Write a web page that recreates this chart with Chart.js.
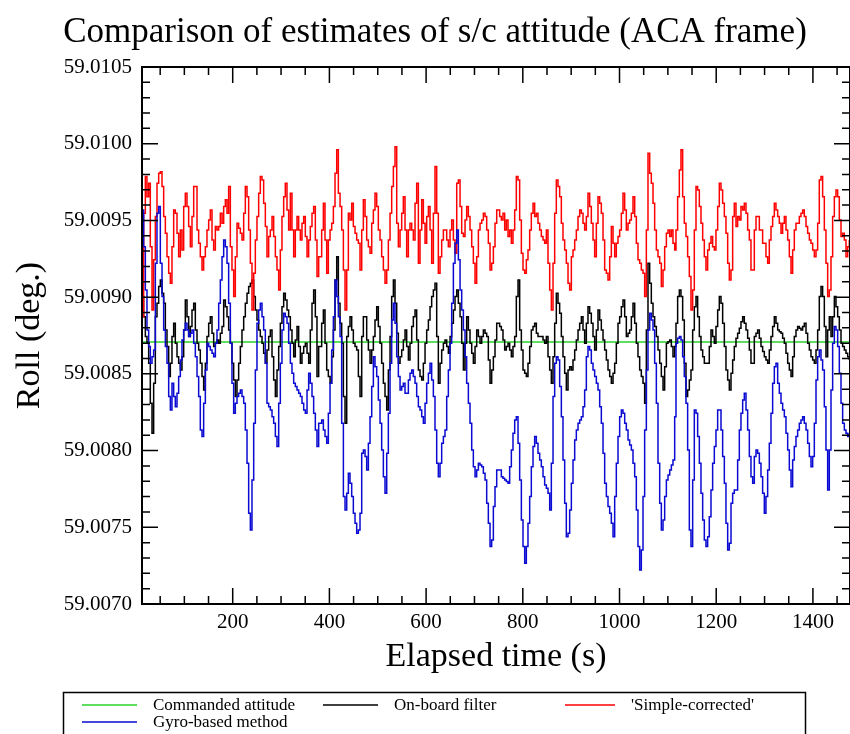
<!DOCTYPE html>
<html>
<head>
<meta charset="utf-8">
<title>Comparison of estimates of s/c attitude</title>
<script src="https://cdn.jsdelivr.net/npm/chart.js@4.4.1/dist/chart.umd.min.js"></script>
<style>
html,body{margin:0;padding:0;background:#ffffff;overflow:hidden;}
#wrap{position:relative;width:850px;height:734px;}
canvas{display:block;}
</style>
</head>
<body>
<div id="wrap"><canvas id="chart" width="850" height="734"></canvas></div>
<script>
// ---------------- data ----------------
const chartTitle = "Comparison of estimates of s/c attitude (ACA frame)";
const xAxisTitle = "Elapsed time (s)";
const yAxisTitle = "Roll (deg.)";
const xTickValues = [200, 400, 600, 800, 1000, 1200, 1400];
const yTickValues = [59.0070, 59.0075, 59.0080, 59.0085, 59.0090, 59.0095, 59.0100, 59.0105];
const xLimits = [12.4, 1476.7];
const yLimits = [59.0070, 59.0105];
const seriesLabels = ["Commanded attitude", "On-board filter", "'Simple-corrected'", "Gyro-based method"];
const commandedRoll = 59.008708;

const time = [
12.4,15.8,19.3,22.7,26.2,29.6,33.1,36.5,40.0,43.4,
46.9,50.3,53.8,57.2,60.7,64.1,67.6,71.0,74.4,77.9,
81.3,84.8,88.2,91.7,95.1,98.6,102.0,105.5,108.9,112.4,
115.8,119.3,122.7,126.2,129.6,133.0,136.5,139.9,143.4,146.8,
150.3,153.7,157.2,160.6,164.1,167.5,171.0,174.4,177.9,181.3,
184.8,188.2,191.6,195.1,198.5,202.0,205.4,208.9,212.3,215.8,
219.2,222.7,226.1,229.6,233.0,236.5,239.9,243.4,246.8,250.2,
253.7,257.1,260.6,264.0,267.5,270.9,274.4,277.8,281.3,284.7,
288.2,291.6,295.1,298.5,301.9,305.4,308.8,312.3,315.7,319.2,
322.6,326.1,329.5,333.0,336.4,339.9,343.3,346.8,350.2,353.7,
357.1,360.5,364.0,367.4,370.9,374.3,377.8,
384.0,387.5,390.9,394.4,397.8,401.3,404.7,408.2,411.6,415.1,
418.5,422.0,425.4,428.9,432.3,435.8,439.2,442.6,446.1,449.5,
453.0,456.4,459.9,463.3,466.8,470.2,473.7,477.1,480.6,484.0,
487.5,490.9,494.3,497.8,501.2,504.7,508.1,511.6,515.0,518.5,
521.9,525.4,528.8,532.3,535.7,539.2,542.6,546.1,549.5,552.9,
556.4,559.8,563.3,566.7,570.2,573.6,577.1,580.5,584.0,587.4,
590.9,594.3,597.8,601.2,604.7,608.1,611.5,615.0,618.4,621.9,
625.3,628.8,632.2,635.7,639.1,642.6,646.0,649.5,652.9,656.4,
659.8,663.3,666.7,670.2,673.6,677.1,680.5,683.9,687.4,690.8,
694.3,697.7,701.2,704.6,708.1,711.5,715.0,718.4,721.9,725.3,
728.7,732.2,735.6,739.1,742.5,746.0,
752.1,755.6,759.0,762.5,765.9,769.4,772.8,776.3,779.7,783.2,
786.6,790.1,793.5,797.0,800.4,803.9,807.3,810.7,814.2,817.6,
821.1,824.5,828.0,831.4,834.9,838.3,841.8,845.2,848.7,852.1,
855.6,859.0,862.5,865.9,869.3,872.8,876.2,879.7,883.1,886.6,
890.0,893.5,896.9,900.4,903.8,907.3,910.7,914.2,917.6,921.1,
924.5,927.9,931.4,934.8,938.3,941.7,945.2,948.6,952.1,955.5,
959.0,962.4,965.9,969.3,972.8,976.2,979.7,983.1,986.6,990.0,
993.4,996.9,1000.3,1003.8,1007.2,1010.7,1014.1,1017.6,1021.0,1024.5,
1027.9,1031.4,1034.8,1038.2,1041.7,1045.1,1048.6,1052.0,1055.5,1058.9,
1062.4,1065.8,1069.3,1072.7,1076.2,1079.6,1083.1,1086.5,1090.0,1093.4,
1096.9,1100.3,1103.8,1107.2,1110.6,1114.1,
1116.8,1120.2,1123.7,1127.1,1130.6,1134.0,1137.5,1140.9,1144.4,1147.8,
1151.3,1154.7,1158.2,1161.6,1165.1,1168.5,1172.0,1175.4,1178.8,1182.3,
1185.7,1189.2,1192.6,1196.1,1199.5,1203.0,1206.4,1209.9,1213.3,1216.8,
1220.2,1223.7,1227.1,1230.6,1234.0,1237.4,1240.9,1244.3,1247.8,1251.2,
1254.7,1258.1,1261.6,1265.0,1268.5,1271.9,1275.4,1278.8,1282.3,1285.7,
1289.2,1292.6,1296.0,1299.5,1302.9,1306.4,1309.8,1313.3,1316.7,1320.2,
1323.6,1327.1,1330.5,1334.0,1337.4,1340.9,1344.3,1347.8,1351.2,1354.7,
1358.1,1361.5,1365.0,1368.4,1371.9,1375.3,1378.8,1382.2,1385.7,1389.1,
1392.6,1396.0,1399.5,1402.9,1406.4,1409.8,1413.2,1416.7,1420.1,1423.6,
1427.0,1430.5,1433.9,1437.4,1440.8,1444.3,1447.7,1451.2,1454.6,1458.1,
1461.5,1465.0,1468.4,1471.9,1475.3
];

const onboardRoll = [
59.009004,59.008873,59.008743,59.008699,59.008569,59.008308,59.008113,59.008439,59.008873,59.008960,
59.009069,59.009112,59.009025,59.008960,59.008786,59.008678,59.008482,59.008569,59.008743,59.008830,
59.008699,59.008612,59.008569,59.008525,59.008612,59.008786,59.008982,59.008873,59.008743,59.008808,
59.008917,59.008960,59.008786,59.008699,59.008656,59.008569,59.008482,59.008395,59.008569,59.008743,
59.008830,59.008873,59.008765,59.008678,59.008699,59.008721,59.008699,59.008765,59.008808,59.008982,
59.008938,59.008873,59.008786,59.008699,59.008569,59.008460,59.008352,59.008460,59.008569,59.008678,
59.008786,59.008873,59.008960,59.009025,59.009069,59.009090,59.009112,59.009004,59.008917,59.008851,
59.008786,59.008743,59.008699,59.008634,59.008569,59.008656,59.008743,59.008786,59.008612,59.008460,
59.008352,59.008525,59.008678,59.008830,59.008938,59.009025,59.008982,59.008917,59.008873,59.008786,
59.008699,59.008612,59.008721,59.008808,59.008678,59.008569,59.008634,59.008678,59.008699,59.008634,
59.008569,59.008786,59.008960,59.009047,59.008873,59.008482,59.008678,
59.008830,59.008917,59.008699,59.008525,59.008482,59.008439,59.008612,59.008786,59.009112,59.009264,
59.008960,59.008830,59.008699,59.008352,59.008178,59.008743,59.008808,59.008873,59.008786,59.008699,
59.008678,59.008656,59.008482,59.008352,59.008743,59.008873,59.008873,59.008721,59.008656,59.008569,
59.008656,59.008743,59.008851,59.008938,59.008808,59.008699,59.008569,59.008439,59.008352,59.008265,
59.008525,59.008743,59.009004,59.009112,59.008960,59.008765,59.008569,59.008612,59.008656,59.008721,
59.008786,59.008678,59.008591,59.008699,59.008808,59.008873,59.008917,59.008721,59.008525,59.008482,
59.008460,59.008569,59.008699,59.008786,59.008851,59.008938,59.009004,59.009047,59.009090,59.008743,
59.008439,59.008569,59.008656,59.008699,59.008721,59.008678,59.008634,59.008743,59.008830,59.008917,
59.009004,59.009047,59.008960,59.008873,59.008699,59.008525,59.008699,59.008873,59.008786,59.008699,
59.008634,59.008569,59.008678,59.008786,59.008743,59.008699,59.008743,59.008786,59.008765,59.008743,
59.008591,59.008439,59.008525,59.008612,59.008721,59.008830,
59.008808,59.008786,59.008721,59.008656,59.008678,59.008699,59.008656,59.008612,59.008678,59.008743,
59.009004,59.009112,59.008786,59.008656,59.008525,59.008504,59.008482,59.008569,59.008678,59.008786,
59.008808,59.008830,59.008765,59.008743,59.008743,59.008743,59.008721,59.008699,59.008743,59.008612,
59.008525,59.008439,59.008612,59.008830,59.009025,59.008960,59.008895,59.008743,59.008612,59.008504,
59.008395,59.008525,59.008547,59.008525,59.008591,59.008656,59.008721,59.008786,59.008830,59.008873,
59.008786,59.008699,59.008830,59.008938,59.008895,59.008830,59.008743,59.008656,59.008786,59.008917,
59.008851,59.008786,59.008721,59.008656,59.008591,59.008525,59.008482,59.008439,59.008504,59.008569,
59.008699,59.008830,59.008873,59.008938,59.008982,59.008873,59.008743,59.008765,59.008786,59.008873,
59.008960,59.008830,59.008699,59.008612,59.008525,59.008482,59.008439,59.008308,59.008786,59.009221,
59.009090,59.008960,59.008873,59.008808,59.008743,59.008656,59.008569,59.008482,59.008395,59.008547,
59.008699,59.008710,59.008721,59.008678,59.008612,59.008678,
59.008830,59.009004,59.009047,59.009004,59.008851,59.008569,59.008352,59.008395,59.008460,59.008525,
59.008786,59.008938,59.009004,59.008873,59.008743,59.008656,59.008612,59.008569,59.008569,59.008569,
59.008678,59.008786,59.008743,59.008699,59.008808,59.008917,59.009004,59.008960,59.008830,59.008678,
59.008525,59.008460,59.008395,59.008504,59.008591,59.008678,59.008732,59.008765,59.008797,59.008840,
59.008873,59.008830,59.008786,59.008732,59.008656,59.008569,59.008569,59.008743,59.008765,59.008786,
59.008732,59.008678,59.008645,59.008612,59.008591,59.008569,59.008656,59.008743,59.008808,59.008873,
59.008830,59.008786,59.008775,59.008765,59.008732,59.008699,59.008634,59.008569,59.008525,59.008482,
59.008612,59.008743,59.008786,59.008808,59.008797,59.008786,59.008808,59.008830,59.008765,59.008699,
59.008656,59.008612,59.008591,59.008569,59.008656,59.008786,59.009004,59.009069,59.009004,59.008808,
59.008612,59.008786,59.008873,59.008743,59.008873,59.009004,59.008938,59.008873,59.008786,59.008699,
59.008678,59.008656,59.008634,59.008612,59.008591
];

const simpleRoll = [
59.008873,59.009547,59.009786,59.009655,59.009742,59.009329,59.008917,59.009243,59.009525,59.009742,
59.009808,59.009818,59.009721,59.009525,59.009416,59.009264,59.009156,59.009090,59.009329,59.009568,
59.009547,59.009416,59.009264,59.009438,59.009308,59.009590,59.009677,59.009590,59.009460,59.009329,
59.009525,59.009721,59.009721,59.009438,59.009351,59.009264,59.009177,59.009264,59.009329,59.009438,
59.009503,59.009568,59.009373,59.009308,59.009460,59.009438,59.009460,59.009547,59.009482,59.009590,
59.009634,59.009547,59.009721,59.009329,59.009177,59.009004,59.009264,59.009482,59.009449,59.009416,
59.009373,59.009547,59.009721,59.009655,59.009438,59.009221,59.008917,59.009156,59.009373,59.009525,
59.009677,59.009786,59.009764,59.009612,59.009460,59.009264,59.009395,59.009438,59.009525,59.009395,
59.009264,59.009177,59.009047,59.009308,59.009525,59.009655,59.009742,59.009568,59.009438,59.009677,
59.009438,59.009264,59.009438,59.009525,59.009438,59.009373,59.009482,59.009525,59.009395,59.009264,
59.009373,59.009460,59.009547,59.009590,59.009373,59.009134,59.009264,
59.009438,59.009612,59.009373,59.009156,59.009373,59.009438,59.009482,59.009590,59.009808,59.009960,
59.009677,59.009590,59.009438,59.009177,59.008917,59.009177,59.009547,59.009503,59.009612,59.009460,
59.009416,59.009373,59.009351,59.009177,59.009438,59.009634,59.009525,59.009373,59.009329,59.009286,
59.009482,59.009568,59.009677,59.009590,59.009438,59.009373,59.009264,59.009177,59.009090,59.009177,
59.009373,59.009547,59.009721,59.009851,59.009981,59.009482,59.009329,59.009438,59.009547,59.009655,
59.009438,59.009264,59.009438,59.009482,59.009438,59.009373,59.009612,59.009742,59.009221,59.009438,
59.009634,59.009482,59.009351,59.009525,59.009590,59.009438,59.009221,59.009547,59.009851,59.009547,
59.009156,59.009264,59.009373,59.009438,59.009438,59.009373,59.009329,59.009438,59.009503,59.009373,
59.009286,59.009742,59.009764,59.009590,59.009416,59.009395,59.009503,59.009590,59.009525,59.009438,
59.009329,59.009221,59.009090,59.009264,59.009438,59.009482,59.009503,59.009547,59.009525,59.009438,
59.009351,59.009177,59.009221,59.009329,59.009482,59.009568,
59.009525,59.009503,59.009547,59.009438,59.009503,59.009395,59.009438,59.009351,59.009438,59.009568,
59.009786,59.009764,59.009503,59.009286,59.009177,59.009156,59.009243,59.009308,59.009438,59.009547,
59.009612,59.009525,59.009547,59.009482,59.009438,59.009395,59.009373,59.009351,59.009438,59.009221,
59.009047,59.008917,59.009221,59.009547,59.009764,59.009721,59.009655,59.009482,59.009373,59.009308,
59.009221,59.009090,59.009047,59.009264,59.009308,59.009373,59.009438,59.009525,59.009568,59.009547,
59.009482,59.009438,59.009525,59.009677,59.009590,59.009482,59.009373,59.009264,59.009482,59.009655,
59.009612,59.009547,59.009373,59.009177,59.009156,59.009112,59.009264,59.009460,59.009351,59.009264,
59.009351,59.009395,59.009438,59.009547,59.009677,59.009568,59.009438,59.009482,59.009503,59.009547,
59.009655,59.009525,59.009351,59.009243,59.009221,59.009177,59.009156,59.009004,59.009438,59.009938,
59.009808,59.009742,59.009612,59.009438,59.009308,59.009264,59.009221,59.009069,59.009177,59.009329,
59.009416,59.009438,59.009395,59.009438,59.009351,59.009308,
59.009438,59.009655,59.009829,59.009960,59.009655,59.009482,59.009395,59.009264,59.009134,59.008917,
59.009047,59.009438,59.009721,59.009699,59.009590,59.009482,59.009373,59.009264,59.009177,59.009308,
59.009351,59.009395,59.009329,59.009308,59.009438,59.009590,59.009742,59.009699,59.009612,59.009525,
59.009416,59.009221,59.009112,59.009177,59.009525,59.009612,59.009460,59.009525,59.009503,59.009590,
59.009568,59.009612,59.009547,59.009438,59.009373,59.009177,59.009177,59.009438,59.009525,59.009525,
59.009438,59.009438,59.009351,59.009351,59.009264,59.009221,59.009373,59.009460,59.009525,59.009612,
59.009568,59.009525,59.009482,59.009416,59.009482,59.009525,59.009438,59.009373,59.009264,59.009156,
59.009308,59.009438,59.009482,59.009482,59.009525,59.009547,59.009568,59.009525,59.009460,59.009416,
59.009373,59.009351,59.009308,59.009264,59.009308,59.009482,59.009764,59.009786,59.009655,59.009438,
59.009221,59.009004,59.009047,59.009264,59.009525,59.009655,59.009699,59.009655,59.009503,59.009395,
59.009416,59.009373,59.009264,59.009329,59.009373
];

const gyroRoll = [
59.009568,59.009329,59.009047,59.008786,59.008678,59.008569,59.008612,59.008656,59.009221,59.009547,
59.009590,59.009221,59.009004,59.008786,59.008678,59.008569,59.008352,59.008265,59.008439,59.008352,
59.008286,59.008373,59.008482,59.008591,59.008721,59.008786,59.008830,59.008786,59.008743,59.008765,
59.008786,59.008699,59.008612,59.008482,59.008352,59.008134,59.008091,59.008308,59.008525,59.008699,
59.008678,59.008656,59.008634,59.008612,59.008699,59.008786,59.008960,59.009112,59.009264,59.009373,
59.009329,59.009221,59.008960,59.008699,59.008439,59.008243,59.008308,59.008352,59.008373,59.008395,
59.008352,59.008308,59.008134,59.007917,59.007591,59.007483,59.007808,59.008178,59.008525,59.008830,
59.008917,59.008960,59.008873,59.008786,59.008569,59.008308,59.008286,59.008265,59.008221,59.008178,
59.008091,59.008026,59.008308,59.008569,59.008786,59.008895,59.008873,59.008830,59.008699,59.008569,
59.008504,59.008439,59.008417,59.008395,59.008373,59.008352,59.008308,59.008265,59.008243,59.008395,
59.008504,59.008439,59.008352,59.008243,59.008134,59.008026,59.008178,
59.008200,59.008134,59.008091,59.008047,59.008243,59.008439,59.008656,59.008873,59.009112,59.009004,
59.008873,59.008743,59.008178,59.007700,59.007613,59.007722,59.007852,59.007787,59.007700,59.007591,
59.007526,59.007461,59.007483,59.007591,59.007982,59.008004,59.007961,59.007874,59.008047,59.008221,
59.008417,59.008612,59.008547,59.008482,59.008330,59.008178,59.008004,59.007830,59.007722,59.007982,
59.008243,59.008569,59.008851,59.008960,59.008830,59.008612,59.008482,59.008395,59.008417,59.008439,
59.008373,59.008373,59.008460,59.008504,59.008525,59.008482,59.008439,59.008352,59.008286,59.008265,
59.008221,59.008178,59.008308,59.008439,59.008504,59.008569,59.008460,59.008352,59.008134,59.007917,
59.007830,59.007917,59.008047,59.008091,59.008134,59.008352,59.008525,59.008699,59.008960,59.009221,
59.009351,59.009438,59.009243,59.009047,59.008917,59.008786,59.008612,59.008439,59.008308,59.008178,
59.008004,59.007895,59.007830,59.007874,59.007917,59.007906,59.007895,59.007852,59.007808,59.007656,
59.007526,59.007374,59.007417,59.007635,59.007765,59.007874,
59.007874,59.007830,59.007819,59.007808,59.007798,59.007787,59.007895,59.008004,59.008113,59.008200,
59.008221,59.008047,59.007808,59.007548,59.007374,59.007265,59.007374,59.007526,59.007700,59.007895,
59.008026,59.008091,59.008047,59.007982,59.007939,59.007895,59.007830,59.007776,59.007754,59.007722,
59.007613,59.007917,59.008352,59.008569,59.008612,59.008591,59.008417,59.008221,59.007939,59.007656,
59.007439,59.007461,59.007613,59.007787,59.007939,59.008069,59.008134,59.008178,59.008200,59.008221,
59.008286,59.008395,59.008612,59.008678,59.008656,59.008569,59.008525,59.008482,59.008439,59.008395,
59.008286,59.008178,59.007982,59.007787,59.007700,59.007635,59.007591,59.007526,59.007439,59.007700,
59.007917,59.008091,59.008221,59.008265,59.008243,59.008178,59.008134,59.008069,59.008036,59.008004,
59.007917,59.007830,59.007613,59.007374,59.007222,59.007352,59.007700,59.008134,59.008525,59.008786,
59.008895,59.008851,59.008786,59.008569,59.008308,59.007917,59.007656,59.007483,59.007548,59.007700,
59.007808,59.007841,59.007874,59.007906,59.007939,59.008221,
59.008699,59.008732,59.008743,59.008721,59.008612,59.008482,59.008308,59.008004,59.007483,59.007374,
59.007808,59.008265,59.008243,59.008091,59.007917,59.007722,59.007548,59.007417,59.007374,59.007439,
59.007569,59.007743,59.007917,59.008026,59.008134,59.008265,59.008265,59.008134,59.007961,59.007787,
59.007526,59.007352,59.007396,59.007656,59.007722,59.007743,59.007743,59.007939,59.008134,59.008243,
59.008330,59.008373,59.008265,59.008134,59.007961,59.007830,59.007787,59.007961,59.008004,59.007982,
59.007917,59.007830,59.007722,59.007591,59.007700,59.007874,59.008047,59.008243,59.008439,59.008547,
59.008569,59.008439,59.008373,59.008308,59.008265,59.008221,59.008113,59.008004,59.007874,59.007765,
59.007939,59.008026,59.008091,59.008134,59.008178,59.008200,59.008221,59.008178,59.008134,59.008047,
59.007961,59.007895,59.007961,59.008178,59.008460,59.008612,59.008656,59.008591,59.008525,59.008286,
59.008004,59.007743,59.008004,59.008395,59.008699,59.008808,59.008786,59.008678,59.008504,59.008308,
59.008178,59.008134,59.008113,59.008091,59.008113
];

// ---------------- styles ----------------
const COL_CMD = '#28d228';
const COL_ONB = '#000000';
const COL_SIM = '#ff0000';
const COL_GYR = '#0a0ad2';
const SERIF = '"Liberation Serif", "Times New Roman", serif';

function pts(vals) { return time.map((t, i) => ({ x: t, y: vals[i] })); }

const decorPlugin = {
  id: 'decor',
  afterDraw(chart) {
    const ctx = chart.ctx;
    const a = chart.chartArea;
    const xs = chart.scales.x, ys = chart.scales.y;
    ctx.save();
    // frame
    ctx.strokeStyle = '#000';
    ctx.lineWidth = 2;
    ctx.strokeRect(a.left, a.top, a.right - a.left, a.bottom - a.top);
    // inward ticks
    ctx.lineWidth = 1.5;
    ctx.beginPath();
    const xStep = xTickValues[1] - xTickValues[0];
    const xMinor = xStep / 4;
    for (let k = Math.ceil(xs.min / xMinor); k * xMinor <= xs.max; k++) {
      const px = xs.getPixelForValue(k * xMinor);
      const len = (k % 4 === 0) ? 16 : 8;
      ctx.moveTo(px, a.bottom); ctx.lineTo(px, a.bottom - len);
      ctx.moveTo(px, a.top); ctx.lineTo(px, a.top + len);
    }
    const yMinor = (yTickValues[1] - yTickValues[0]) / 5;
    const nY = Math.round((yLimits[1] - yLimits[0]) / yMinor);
    for (let n = 0; n <= nY; n++) {
      const py = ys.getPixelForValue(yLimits[0] + n * yMinor);
      const len = (n % 5 === 0) ? 16 : 8;
      ctx.moveTo(a.left, py); ctx.lineTo(a.left + len, py);
      ctx.moveTo(a.right, py); ctx.lineTo(a.right - len, py);
    }
    ctx.stroke();
    // title
    ctx.fillStyle = '#000';
    ctx.font = '35px ' + SERIF;
    ctx.textAlign = 'center';
    ctx.textBaseline = 'alphabetic';
    ctx.fillText(chartTitle, 435, 42);
    // legend box
    ctx.lineWidth = 1.5;
    ctx.strokeStyle = '#000';
    ctx.strokeRect(63.5, 692.5, 742, 80);
    const items = [
      { label: seriesLabels[0], color: COL_CMD, x: 82, y: 705 },
      { label: seriesLabels[1], color: COL_ONB, x: 323, y: 705 },
      { label: seriesLabels[2], color: COL_SIM, x: 565, y: 705, len: 50 },
      { label: seriesLabels[3], color: COL_GYR, x: 82, y: 722 }
    ];
    ctx.font = '17px ' + SERIF;
    ctx.textAlign = 'left';
    ctx.textBaseline = 'middle';
    items.forEach(it => {
      const len = it.len || 55;
      ctx.strokeStyle = it.color;
      ctx.lineWidth = 1.5;
      ctx.beginPath();
      ctx.moveTo(it.x, it.y); ctx.lineTo(it.x + len, it.y);
      ctx.stroke();
      ctx.fillStyle = '#000';
      ctx.fillText(it.label, it.x + len + 16, it.y + 1);
    });
    ctx.restore();
  }
};

const lineStyle = { borderWidth: 1.5, pointRadius: 0, tension: 0, fill: false, stepped: true };

new Chart(document.getElementById('chart'), {
  type: 'line',
  data: {
    datasets: [
      Object.assign({ label: seriesLabels[3], data: pts(gyroRoll), borderColor: COL_GYR }, lineStyle),
      Object.assign({ label: seriesLabels[2], data: pts(simpleRoll), borderColor: COL_SIM }, lineStyle),
      Object.assign({ label: seriesLabels[1], data: pts(onboardRoll), borderColor: COL_ONB }, lineStyle),
      Object.assign({ label: seriesLabels[0], data: [{ x: xLimits[0], y: commandedRoll }, { x: xLimits[1], y: commandedRoll }], borderColor: COL_CMD }, lineStyle)
    ]
  },
  options: {
    responsive: false,
    devicePixelRatio: 1,
    animation: false,
    layout: { padding: { top: 67, right: 0, bottom: 0, left: 0 } },
    plugins: { legend: { display: false }, tooltip: { enabled: false }, title: { display: false } },
    scales: {
      x: {
        type: 'linear',
        min: xLimits[0], max: xLimits[1],
        afterBuildTicks: s => { s.ticks = xTickValues.map(v => ({ value: v })); },
        afterFit: s => { s.height = 130; },
        grid: { display: false, drawTicks: false },
        border: { display: false },
        ticks: { color: '#000', font: { family: SERIF, size: 21 }, padding: 6, maxRotation: 0, autoSkip: false, callback: v => String(Math.round(v)) },
        title: { display: true, text: xAxisTitle, color: '#000', font: { family: SERIF, size: 34 }, padding: { top: 0, bottom: 57 } }
      },
      y: {
        type: 'linear',
        min: yLimits[0], max: yLimits[1],
        afterBuildTicks: s => { s.ticks = yTickValues.map(v => ({ value: v })); },
        afterFit: s => { s.width = 142; },
        grid: { display: false, drawTicks: false },
        border: { display: false },
        ticks: { color: '#000', font: { family: SERIF, size: 21 }, padding: 10, autoSkip: false, callback: v => Number(v).toFixed(4) },
        title: { display: true, text: yAxisTitle, color: '#000', font: { family: SERIF, size: 34 }, padding: { top: 10, bottom: 0 } }
      }
    }
  },
  plugins: [decorPlugin]
});
</script>
</body>
</html>
